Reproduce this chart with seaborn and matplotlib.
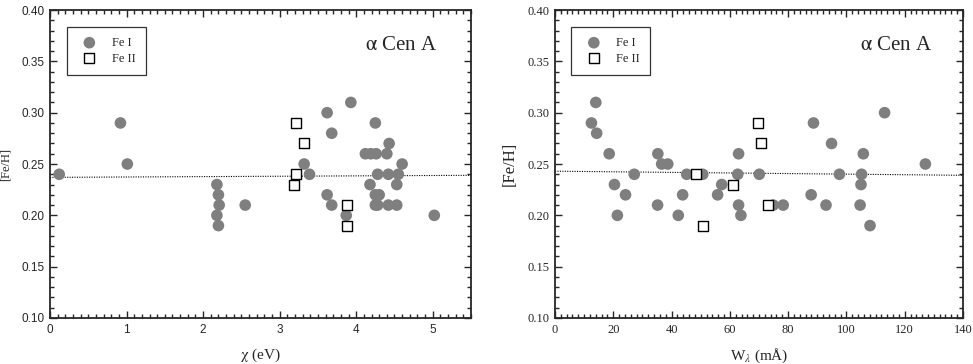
import numpy as np
import pandas as pd
import matplotlib
matplotlib.use('Agg')
import matplotlib.pyplot as plt
from matplotlib.ticker import MultipleLocator, FormatStrFormatter
import seaborn as sns

# 왼쪽 패널: 여기 에너지 χ (eV)
chi_fe1 = [0.12, 0.92, 1.01, 2.18, 2.20, 2.21, 2.18, 2.20, 2.55, 3.32, 3.39,
           3.62, 3.68, 3.93, 3.62, 3.68, 3.87, 4.25, 4.12, 4.19, 4.26, 4.40,
           4.43, 4.60, 4.28, 4.42, 4.55, 4.18, 4.53, 4.25, 4.30, 4.25, 4.28,
           4.42, 4.53, 5.02]
feh_chi_fe1 = [0.24, 0.29, 0.25, 0.23, 0.22, 0.21, 0.20, 0.19, 0.21, 0.25, 0.24,
               0.30, 0.28, 0.31, 0.22, 0.21, 0.20, 0.29, 0.26, 0.26, 0.26, 0.26,
               0.27, 0.25, 0.24, 0.24, 0.24, 0.23, 0.23, 0.22, 0.22, 0.21, 0.21,
               0.21, 0.21, 0.20]
chi_fe2 = [3.21, 3.32, 3.21, 3.19, 3.88, 3.88]
feh_chi_fe2 = [0.29, 0.27, 0.24, 0.23, 0.21, 0.19]
chi_fit_x = [0.0, 5.5]
chi_fit_y = [0.237, 0.239]

# 오른쪽 패널: 등가폭 W (mÅ)
w_fe1 = [14.0, 12.5, 14.3, 18.6, 20.4, 21.4, 24.2, 27.2, 35.3, 35.2, 36.6, 38.7,
         42.3, 43.8, 45.2, 50.7, 55.8, 57.2, 63.0, 62.7, 63.0, 63.8, 70.1, 74.9,
         78.3, 88.7, 87.9, 93.0, 94.9, 97.6, 105.8, 105.2, 105.0, 104.7, 108.1,
         113.1, 127.1]
feh_w_fe1 = [0.31, 0.29, 0.28, 0.26, 0.23, 0.20, 0.22, 0.24, 0.26, 0.21, 0.25, 0.25,
             0.20, 0.22, 0.24, 0.24, 0.22, 0.23, 0.26, 0.24, 0.21, 0.20, 0.24, 0.21,
             0.21, 0.29, 0.22, 0.21, 0.27, 0.24, 0.26, 0.24, 0.23, 0.21, 0.19,
             0.30, 0.25]
w_fe2 = [48.5, 50.9, 61.1, 69.7, 70.7, 73.2]
feh_w_fe2 = [0.24, 0.19, 0.23, 0.29, 0.27, 0.21]
w_fit_x = [0.0, 140.0]
w_fit_y = [0.243, 0.239]

sns.set_style('ticks')
plt.rcParams['font.family'] = ['Liberation Serif', 'DejaVu Serif']
plt.rcParams['mathtext.fontset'] = 'stix'

fig = plt.figure(figsize=(9.73, 3.64), dpi=100)
ax1 = fig.add_axes([0.0514, 0.1264, 0.4327, 0.846])
ax2 = fig.add_axes([0.5704, 0.1264, 0.4193, 0.846])

GRAY = '#7f7f7f'


def draw_panel(ax, x1, y1, x2, y2, fx, fy, xmax, xmaj, xmin, xlabel,
               tick_family, tick_size, ylab_size):
    d1 = pd.DataFrame({'x': x1, 'y': y1})
    d2 = pd.DataFrame({'x': x2, 'y': y2})
    dfit = pd.DataFrame({'x': fx, 'y': fy})
    sns.lineplot(data=dfit, x='x', y='y', ax=ax, color='black', lw=0.8,
                 linestyle=(0, (1, 1.2)), zorder=1)
    sns.scatterplot(data=d1, x='x', y='y', ax=ax, color=GRAY, s=70,
                    edgecolor='none', marker='o', label='Fe I', zorder=3)
    sns.scatterplot(data=d2, x='x', y='y', ax=ax, facecolor='white', s=55,
                    edgecolor='black', linewidth=1.0, marker='s', label='Fe II', zorder=4)
    ax.set_xlim(0, xmax)
    ax.set_ylim(0.10, 0.40)
    ax.xaxis.set_major_locator(MultipleLocator(xmaj))
    ax.xaxis.set_minor_locator(MultipleLocator(xmin))
    ax.yaxis.set_major_locator(MultipleLocator(0.05))
    ax.yaxis.set_minor_locator(MultipleLocator(0.01))
    ax.yaxis.set_major_formatter(FormatStrFormatter('%.2f'))
    ax.xaxis.set_major_formatter(FormatStrFormatter('%d'))
    ax.tick_params(which='both', direction='in', top=True, right=True, width=1.0)
    ax.tick_params(which='major', length=5, pad=4)
    ax.tick_params(which='minor', length=3)
    for lab in ax.get_xticklabels() + ax.get_yticklabels():
        lab.set_fontfamily(tick_family)
        lab.set_fontsize(tick_size)
    for sp in ax.spines.values():
        sp.set_linewidth(1.3)
        sp.set_visible(True)
    ax.set_xlabel(xlabel, fontsize=11, labelpad=8)
    ax.set_ylabel('[Fe/H]', fontsize=ylab_size, labelpad=7)
    ax.text(0.835, 0.885, r'$\mathrm{\alpha}$ Cen A', transform=ax.transAxes,
            ha='center', va='center', fontsize=15)
    leg = ax.legend(loc='upper left', bbox_to_anchor=(0.04, 0.945), fontsize=9,
                    frameon=True, fancybox=False, edgecolor='black',
                    borderpad=0.8, handletextpad=0.8, labelspacing=0.3,
                    borderaxespad=0)
    leg.get_frame().set_linewidth(0.9)


draw_panel(ax1, chi_fe1, feh_chi_fe1, chi_fe2, feh_chi_fe2, chi_fit_x, chi_fit_y,
           5.5, 1, 0.1, r'$\mathrm{\chi}$ (eV)', 'Liberation Sans', 8.5, 9)
draw_panel(ax2, w_fe1, feh_w_fe1, w_fe2, feh_w_fe2, w_fit_x, w_fit_y,
           140, 20, 2, r'W$_{\lambda}$ (mÅ)', 'Liberation Serif', 9, 12)

fig.savefig('out.png', dpi=100)
